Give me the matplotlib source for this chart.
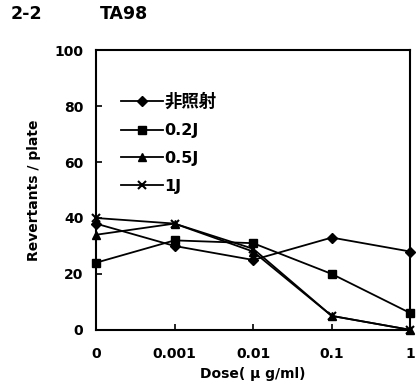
import matplotlib
matplotlib.use("Agg")
import matplotlib.pyplot as plt

plt.rcParams['font.family'] = ['DejaVu Sans', 'Noto Sans CJK JP']
plt.rcParams['font.weight'] = 'bold'

doses = ["0", "0.001", "0.01", "0.1", "1"]
series_labels = ["非照射", "0.2J", "0.5J", "1J"]
non_irradiated = [38, 30, 25, 33, 28]
j02 = [24, 32, 31, 20, 6]
j05 = [34, 38, 28, 5, 0]
j1 = [40, 38, 29, 5, 0]
markers = ["D", "s", "^", "x"]

fig = plt.figure(figsize=(4.17, 3.89), dpi=100)
ax = fig.add_axes([0.230, 0.152, 0.754, 0.719])

x = list(range(len(doses)))
for vals, lab, m in zip([non_irradiated, j02, j05, j1], series_labels, markers):
    ax.plot(x, vals, color="black", lw=1.3, marker=m,
            markersize=6 if m != "D" else 5, markeredgewidth=1.5 if m == "x" else 1,
            label=lab, clip_on=False, zorder=3)

ax.set_xlim(0, 4)
ax.set_ylim(0, 100)
ax.set_xticks(x)
ax.set_xticklabels(doses)
ax.set_yticks(range(0, 101, 20))
ax.tick_params(direction="in", length=4, width=1.2, labelsize=10, pad=12)
ax.tick_params(axis="y", pad=9)
for s in ax.spines.values():
    s.set_linewidth(1.5)

ax.set_xlabel("Dose( μ g/ml)", fontsize=10, fontweight="bold", labelpad=5)
ax.set_ylabel("Revertants / plate", fontsize=10, fontweight="bold", labelpad=10)

leg = ax.legend(loc="upper left", frameon=False, handlelength=2.6,
                handletextpad=0.1, labelspacing=0.8, bbox_to_anchor=(0.035, 0.9),
                prop={"family": ["DejaVu Sans", "Noto Sans CJK JP"], "weight": "bold", "size": 11.5})
leg.get_texts()[0].set_fontsize(12.5)

fig.text(0.025, 0.95, "2-2", fontsize=12.5, fontweight="bold")
fig.text(0.24, 0.95, "TA98", fontsize=12.5, fontweight="bold")

fig.savefig("out.png", dpi=100)
